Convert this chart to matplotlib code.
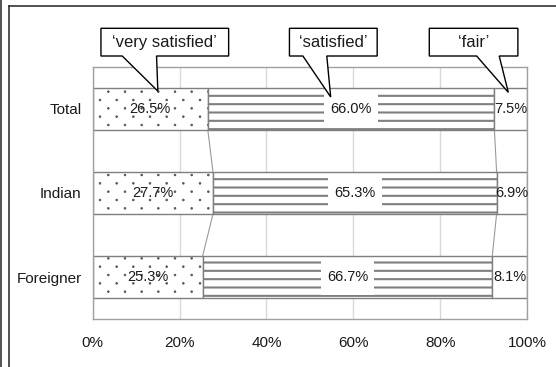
import numpy as np
import matplotlib
matplotlib.use("Agg")
import matplotlib.pyplot as plt
import matplotlib.hatch as mhatch
from matplotlib.path import Path
from matplotlib.patches import Polygon
from matplotlib.lines import Line2D

plt.rcParams['font.family'] = ['Liberation Sans', 'DejaVu Sans']


class SparseDots(mhatch.HatchPatternBase):
    """Small dots in staggered rows; rows twice as dense as columns."""
    size = 0.05

    def __init__(self, hatch, density):
        self.cols = hatch.count('.') * density
        circle = Path.unit_circle()
        self.shape_vertices = circle.vertices
        self.shape_codes = circle.codes
        self.centers = []
        if self.cols == 0:
            self.num_vertices = 0
            return
        rows = 2 * self.cols
        for r in range(rows + 1):
            y = r / rows
            if r % 2 == 0:
                xs = np.linspace(0, 1, self.cols + 1)
            else:
                xs = np.linspace(0.5 / self.cols, 1 - 0.5 / self.cols, self.cols)
            self.centers += [(x, y) for x in xs]
        self.num_vertices = len(self.centers) * len(self.shape_vertices)

    def set_vertices_and_codes(self, vertices, codes):
        shape = self.shape_vertices * (self.size / self.cols)
        n = len(shape)
        for k, c in enumerate(self.centers):
            vertices[k * n:(k + 1) * n] = shape + c
            codes[k * n:(k + 1) * n] = self.shape_codes


mhatch._hatch_types[mhatch._hatch_types.index(mhatch.SmallFilledCircles)] = SparseDots

# Satisfaction shares (%) per visitor group
groups = ['Total', 'Indian', 'Foreigner']
very_satisfied = [26.5, 27.7, 25.3]
satisfied = [66.0, 65.3, 66.7]
fair = [7.5, 6.9, 8.1]
x_ticks = [0, 20, 40, 60, 80, 100]
x_tick_labels = ['0%', '20%', '40%', '60%', '80%', '100%']
callout_labels = ['\u2018very satisfied\u2019', '\u2018satisfied\u2019', '\u2018fair\u2019']

fig = plt.figure(figsize=(5.56, 3.67), dpi=100)
ax = fig.add_axes([92.7 / 556, 1 - 319.3 / 367, (527 - 92.7) / 556, (319.3 - 66.7) / 367])

ys = list(range(len(groups)))
h = 0.5
edge = '#7f7f7f'

with plt.rc_context({'hatch.linewidth': 0.6}):
    ax.barh(ys, very_satisfied, height=h, color='white', edgecolor='#555555',
            hatch='.', lw=0, zorder=2)
    ax.barh(ys, very_satisfied, height=h, color='none', edgecolor=edge,
            lw=1.0, zorder=2)
with plt.rc_context({'hatch.linewidth': 1.5}):
    ax.barh(ys, satisfied, left=very_satisfied, height=h, color='white',
            edgecolor=edge, hatch='--', lw=1.0, zorder=2)
left_fair = [a + b for a, b in zip(very_satisfied, satisfied)]
ax.barh(ys, fair, left=left_fair, height=h, color='white', edgecolor=edge,
        lw=1.0, zorder=2)

# series connector lines between consecutive bars
for i in range(len(groups) - 1):
    ax.plot([very_satisfied[i], very_satisfied[i + 1]], [i + h / 2, i + 1 - h / 2],
            color='#9a9a9a', lw=0.8, zorder=1)
    ax.plot([left_fair[i], left_fair[i + 1]], [i + h / 2, i + 1 - h / 2],
            color='#9a9a9a', lw=0.8, zorder=1)

# value labels
for i in ys:
    ax.text(very_satisfied[i] / 2, i, f'{very_satisfied[i]:.1f}%', ha='center',
            va='center', fontsize=10.5, color='#1a1a1a', zorder=4)
    ax.text(very_satisfied[i] + satisfied[i] / 2, i, f'{satisfied[i]:.1f}%',
            ha='center', va='center', fontsize=10.5, color='#1a1a1a', zorder=4,
            bbox=dict(boxstyle='square,pad=0.42', fc='white', ec='none',
                      mutation_aspect=1.75))
    ax.text(left_fair[i] + fair[i] / 2, i, f'{fair[i]:.1f}%', ha='center',
            va='center', fontsize=10.5, color='#1a1a1a', zorder=4)

ax.set_xlim(0, 100)
ax.set_ylim(len(groups) - 0.5, -0.5)
ax.set_yticks(ys)
ax.set_yticklabels(groups, fontsize=11, color='#1a1a1a')
ax.set_xticks(x_ticks)
ax.set_xticklabels(x_tick_labels, fontsize=11, color='#1a1a1a')
ax.tick_params(axis='y', length=0, pad=8)
ax.tick_params(axis='x', length=0, pad=12)
ax.grid(axis='x', color='#d9d9d9', lw=1.0, zorder=0)
ax.set_axisbelow(True)
for s in ax.spines.values():
    s.set_color('#a0a0a0')
    s.set_linewidth(1.0)

# callout boxes: (box left, box right, pointer base left, pointer base right, tip x, tip y)
callouts = [
    (1.9, 31.3, 6.8, 14.7, 15.0, -0.21),
    (45.3, 65.5, 48.4, 53.9, 54.8, -0.14),
    (77.5, 97.9, 88.4, 93.6, 95.7, -0.195),
]
box_top, box_bot = -0.956, -0.627
for text, (bl, br, p1, p2, tx, ty) in zip(callout_labels, callouts):
    pts = [(bl, box_top), (br, box_top), (br, box_bot), (p2, box_bot),
           (tx, ty), (p1, box_bot), (bl, box_bot)]
    ax.add_patch(Polygon(pts, closed=True, fc='white', ec='black', lw=1.0,
                         clip_on=False, zorder=6))
    ax.text((bl + br) / 2, (box_top + box_bot) / 2, text, ha='center',
            va='center', fontsize=12, color='#1a1a1a', zorder=7, clip_on=False)

# chart frame lines
fig.add_artist(Line2D([0.6 / 556, 0.6 / 556], [0, 1], transform=fig.transFigure,
                      color='#333333', lw=1.2))
fig.add_artist(Line2D([8.5 / 556, 8.5 / 556], [0, 1 - 5.5 / 367],
                      transform=fig.transFigure, color='#333333', lw=1.2))
fig.add_artist(Line2D([8.5 / 556, 1], [1 - 5.5 / 367, 1 - 5.5 / 367],
                      transform=fig.transFigure, color='#333333', lw=1.2))

fig.savefig('out.png', dpi=100)
